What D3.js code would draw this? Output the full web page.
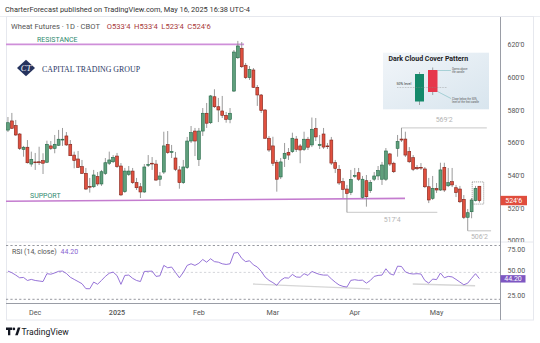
<!DOCTYPE html>
<html><head><meta charset="utf-8">
<script src="https://cdn.jsdelivr.net/npm/d3@7"></script>
<style>body{margin:0;background:#fff}svg{display:block}text{font-family:Roboto,"Noto Sans",sans-serif}text.serif{font-family:"Liberation Serif","DejaVu Serif",serif}</style>
</head><body>
<svg id="c" width="540" height="343"></svg>
<script>
// ---------- DATA ----------
const opens  = [567.9,573.5,570.6,565.5,556.1,557.4,547.1,548.4,548.5,549.2,548.2,558.2,556.7,558.6,561.8,564.3,559.2,552.6,550.2,545.5,
541.4,533.4,533.2,539.4,534.9,541.4,547.6,548.5,552.0,545.9,530.2,540.8,542.8,535.7,533.2,530.0,546.3,547.6,547.1,537.8,
542.2,559.0,554.5,550.8,543.5,535.7,544.9,561.2,567.3,550.0,567.3,578.2,572.4,588.3,582.2,579.6,576.9,574.5,591.8,612.2,
618.0,607.6,600.0,604.7,594.1,589.4,580.2,562.9,558.2,548.2,539.2,550.6,554.3,554.7,562.4,558.2,556.1,562.3,558.8,569.0,
558.5,565.5,558.2,561.8,548.0,543.9,536.3,531.8,529.7,540.0,541.8,526.7,536.9,530.8,537.8,539.8,537.8,537.8,553.3,547.6,
556.7,562.4,562.4,554.7,551.0,545.1,545.1,544.1,533.2,526.1,532.2,531.2,545.1,533.8,536.3,532.6,531.8,525.5,514.5,517.9,
524.7,533.5];
const highs  = [575.9,578.4,574.1,566.1,558.2,561.8,554.7,553.9,557.7,553.7,561.4,561.2,564.9,568.0,569.2,566.7,561.8,554.7,555.1,549.6,
544.7,538.6,543.5,542.2,543.5,550.8,554.7,552.6,553.9,547.7,544.7,545.9,544.7,538.6,535.5,547.1,552.6,551.4,549.6,542.2,
566.9,567.3,558.8,554.5,545.9,549.6,563.7,570.4,569.2,569.2,581.4,584.5,589.4,592.9,587.6,588.8,579.0,581.4,616.9,622.5,
621.8,609.0,607.1,605.9,595.5,590.0,580.8,564.3,563.8,549.6,550.8,560.0,556.9,566.3,564.3,559.4,566.9,563.7,575.6,575.3,
564.9,569.2,560.0,563.7,549.6,546.5,538.6,534.3,543.5,544.7,544.7,539.8,540.4,537.3,542.2,545.9,548.4,556.9,553.9,548.5,
564.9,569.25,566.9,557.5,552.6,546.5,547.7,545.3,538.6,539.8,535.5,547.9,547.9,544.7,544.7,534.3,533.7,528.1,519.6,526.3,
533.7,533.5];
const lows   = [566.7,568.6,564.3,555.7,551.6,547.4,545.5,543.5,546.5,541.0,547.7,555.7,553.7,558.2,558.2,558.2,552.0,544.5,544.7,541.0,
531.2,529.6,532.4,533.7,533.7,540.4,546.5,547.7,544.7,527.5,529.4,539.8,534.9,531.2,526.3,529.4,545.3,543.5,536.7,533.7,
541.0,553.3,550.8,542.8,532.0,534.9,544.1,560.0,552.0,545.9,564.3,569.2,571.6,581.4,572.8,575.3,572.4,572.1,591.2,611.4,
605.9,599.2,598.6,593.7,582.7,578.4,562.4,554.5,545.9,530.2,537.9,545.3,549.6,553.9,554.5,547.6,555.1,555.7,557.5,561.2,
556.3,556.3,556.3,546.5,541.6,534.3,526.3,517.5,528.1,538.6,536.7,525.7,521.0,529.4,536.7,537.3,534.3,536.7,545.9,541.6,
551.6,560.6,551.4,547.7,542.8,543.5,543.5,532.4,523.2,525.1,529.4,530.6,530.0,533.0,533.0,526.9,523.2,513.4,506.25,513.9,
524.2,523.5];
const closes = [572.4,569.0,564.9,556.7,557.4,547.9,550.0,548.0,547.9,547.6,559.2,556.7,559.2,562.3,562.3,558.8,552.2,549.2,545.1,541.4,
531.8,533.1,540.4,534.9,542.4,547.9,549.6,551.2,545.5,528.2,542.8,542.8,535.7,532.6,530.0,545.3,546.9,547.4,537.3,539.8,
558.2,554.1,554.7,543.9,535.7,545.3,561.2,566.3,561.2,567.3,578.2,572.1,588.8,582.2,580.2,576.9,574.5,578.2,615.7,619.4,
606.7,600.0,605.1,594.1,589.4,579.8,562.9,555.7,547.6,537.8,548.4,553.7,552.6,562.9,556.1,555.7,562.3,557.4,568.4,563.7,
559.1,557.5,558.0,547.7,544.4,535.5,531.6,529.1,537.6,540.1,537.8,537.8,527.1,535.7,539.8,543.1,546.5,555.1,547.1,542.4,
560.8,561.8,552.6,548.5,543.9,544.2,545.0,533.2,525.1,532.2,531.2,543.5,531.2,535.7,534.3,529.6,524.0,514.5,517.3,525.1,
532.2,524.75];
const rsiValues = [51.2,49.7,47.5,45,45.3,42.5,43.5,42.5,42,41.5,48.8,48.3,49.5,51,51.2,49,45.5,43.5,41.5,39.5,
34.9,34.8,41,39,42.5,46.3,49.2,50.3,47,38.9,47.2,47.5,44.5,42.5,41.5,50.9,51,51.2,46.3,46.8,
56.5,54.3,55,50,45,50,56.5,58,56.5,58.5,62,59.5,62.7,60,59.5,58,57.4,58,67.9,68.5,
63,60,60.8,57,55,51,45.7,42.6,40.5,38,42.6,45,44.7,48.1,45.7,45.5,48.8,47.2,50.9,49.4,
48.1,47.5,47.5,44,40.9,38.3,37,36.4,42.6,43.2,42.6,42.8,40,42.5,46.3,47.2,47.5,53.4,48.8,47.5,
55.8,55.5,50.5,49,48.5,48.8,48.5,42.5,40,43.8,43.3,49.4,45,46.3,45.8,43.5,41,38.5,40,44.5,
48.8,44.2];
const monthLabels = ["Dec","2025","Feb","Mar","Apr","May"];
const monthBarIndex = [7,28,49,68,89,110];
const priceTicks = [500,520,540,560,580,600,620];
const rsiTicks = [25,50,75];
const resistanceIdx = [-0.5,60.6], resistancePrice = [620.4,620.4];
const supportIdx = [-0.5,101.9], supportPrice = [524.3,526.1];
const levelPrices = [569.25,517.5,506.25];
const levelFromIdx = [101,87,118];
const levelToIdx = [122.9,110.2,124];
const rsiTrendIdx = [[62.9,92.9],[103.9,119.9]];
const rsiTrendVal = [[39.2,34.6],[39.2,37.6]];

// ---------- SETUP ----------
const svg = d3.select("#c");
const n = closes.length;
const x = d3.scaleLinear().domain([0,n-1]).range([7.95,479.4]);
const y = d3.scaleLinear().domain([520,620]).range([208.3,45]);
const yr = d3.scaleLinear().domain([25,75]).range([299.3,245.5]);
const fmt8 = v => { const w=Math.floor(v+1e-9); return w+"'"+Math.round((v-w)*8); };

const defs = svg.append("defs");
defs.append("clipPath").attr("id","pp").append("rect").attr("x",6).attr("y",17).attr("width",494).attr("height",225);
defs.append("clipPath").attr("id","pa").append("rect").attr("x",500).attr("y",17).attr("width",34).attr("height",225);
defs.append("clipPath").attr("id","rp").append("rect").attr("x",6).attr("y",242).attr("width",494).attr("height",61);
const g1 = defs.append("linearGradient").attr("id","ig").attr("x1",0).attr("y1",0).attr("x2",1).attr("y2",1);
g1.append("stop").attr("offset",0).attr("stop-color","#f1f5f9");
g1.append("stop").attr("offset",1).attr("stop-color","#d8e5ee");

// header
svg.append("text").attr("x",5).attr("y",11.5).attr("font-size",7.4).attr("fill","#333")
  .text("CharterForecast published on TradingView.com, May 16, 2025 16:38 UTC-4");
svg.append("line").attr("x1",0).attr("x2",540).attr("y1",16.5).attr("y2",16.5).attr("stroke","#eceef2");

// frame
svg.append("rect").attr("x",6.5).attr("y",16.5).attr("width",527).attr("height",303.5)
  .attr("fill","none").attr("stroke","#e6e8ee");
svg.append("line").attr("x1",6).attr("x2",533).attr("y1",242).attr("y2",242).attr("stroke","#e6e8ee");
svg.append("line").attr("x1",500.5).attr("x2",500.5).attr("y1",17).attr("y2",320).attr("stroke","#9a9da6");
svg.append("line").attr("x1",6).attr("x2",500.5).attr("y1",303.5).attr("y2",303.5).attr("stroke","#9a9da6");

// title
const last = n-1;
const tt = svg.append("text").attr("x",11).attr("y",28.5).attr("font-size",7.6).attr("fill","#555");
tt.append("tspan").text("Wheat Futures · 1D · CBOT");
[["O",opens[last]],["H",highs[last]],["L",lows[last]],["C",closes[last]]].forEach((d,k)=>{
  tt.append("tspan").attr("dx",k?3.5:7).attr("fill","#a8393a").text(d[0]+fmt8(d[1]));
});

// logo
svg.append("path").attr("d","M26,59.7L35,68L26,76.3L17,68Z").attr("fill","#26335e");
svg.append("text").attr("class","serif").attr("x",26).attr("y",71).attr("text-anchor","middle").attr("font-size",8.5)
  .attr("fill","#fff").attr("font-style","italic").text("CT");
svg.append("text").attr("class","serif").attr("x",42).attr("y",71.5).attr("font-size",8.6)
  .attr("fill","#2b3866").attr("textLength",98).attr("lengthAdjust","spacingAndGlyphs").text("CAPITAL TRADING GROUP");

// price pane
const pp = svg.append("g").attr("clip-path","url(#pp)");
pp.append("line").attr("x1",x(resistanceIdx[0])).attr("x2",x(resistanceIdx[1]))
  .attr("y1",y(resistancePrice[0])).attr("y2",y(resistancePrice[1])).attr("stroke","#cf8fd9").attr("stroke-width",1.6);
pp.append("line").attr("x1",x(supportIdx[0])).attr("x2",x(supportIdx[1]))
  .attr("y1",y(supportPrice[0])).attr("y2",y(supportPrice[1])).attr("stroke","#c47ccf").attr("stroke-width",1.6);
pp.append("text").attr("x",37).attr("y",41.5).attr("font-size",7).attr("fill","#2f8a70").text("RESISTANCE");
pp.append("text").attr("x",30).attr("y",197.5).attr("font-size",7).attr("fill","#2f8a70").text("SUPPORT");

// level annotations
levelPrices.forEach((p,k)=>{
  const x0=x(levelFromIdx[k]), x1=x(levelToIdx[k]);
  pp.append("line").attr("x1",x0).attr("x2",x1).attr("y1",y(p)).attr("y2",y(p)).attr("stroke","#d3d3d3").attr("stroke-width",1.4);
});
pp.append("text").attr("x",(x(levelFromIdx[0])+x(levelToIdx[0]))/2).attr("y",y(levelPrices[0])-5.5)
  .attr("text-anchor","middle").attr("font-size",7).attr("fill","#b4b4b4").text(fmt8(levelPrices[0]));
pp.append("text").attr("x",(x(levelFromIdx[1])+x(levelToIdx[1]))/2).attr("y",y(levelPrices[1])+9.5)
  .attr("text-anchor","middle").attr("font-size",7).attr("fill","#b4b4b4").text(fmt8(levelPrices[1]));
pp.append("text").attr("x",(x(levelFromIdx[2])+x(levelToIdx[2]))/2).attr("y",y(levelPrices[2])+8.5)
  .attr("text-anchor","middle").attr("font-size",7).attr("fill","#b4b4b4").text(fmt8(levelPrices[2]));

// candles
const idx = d3.range(n);
pp.selectAll(".wick").data(idx).join("line")
  .attr("x1",i=>x(i)).attr("x2",i=>x(i)).attr("y1",i=>y(highs[i])).attr("y2",i=>y(lows[i]))
  .attr("stroke","#8e8e8e").attr("stroke-width",0.9);
pp.selectAll(".body").data(idx).join("rect")
  .attr("x",i=>x(i)-1.45).attr("width",2.9)
  .attr("y",i=>y(Math.max(opens[i],closes[i])))
  .attr("height",i=>Math.max(0.8,Math.abs(y(opens[i])-y(closes[i]))))
  .attr("fill",i=>closes[i]>=opens[i]?"#5f9f7c":"#e0503f")
  .attr("stroke",i=>closes[i]>=opens[i]?"#226845":"#80231a").attr("stroke-width",0.6);

// dotted box around last two bars
const bx0=x(n-2)-3.3, bx1=x(n-1)+4.3;
const by0=y(d3.max(highs.slice(-2)))-4, by1=y(d3.min(lows.slice(-2)))+1.5;
pp.append("rect").attr("x",bx0).attr("y",by0).attr("width",bx1-bx0).attr("height",by1-by0)
  .attr("fill","none").attr("stroke","#666").attr("stroke-width",0.7).attr("stroke-dasharray","1,1");

// inset image: Dark Cloud Cover Pattern
const ins = svg.append("g");
ins.append("rect").attr("x",383).attr("y",52.7).attr("width",106).attr("height",56.6).attr("fill","url(#ig)");
ins.append("text").attr("x",388.5).attr("y",61).attr("font-size",7).attr("font-weight","bold").attr("fill","#1d1d1f").text("Dark Cloud Cover Pattern");
ins.append("line").attr("x1",419.5).attr("x2",419.5).attr("y1",72).attr("y2",105).attr("stroke","#555").attr("stroke-width",0.5);
ins.append("rect").attr("x",415).attr("y",74).attr("width",9).attr("height",27.5).attr("fill","#14896a");
ins.append("line").attr("x1",432.7).attr("x2",432.7).attr("y1",67.5).attr("y2",95).attr("stroke","#555").attr("stroke-width",0.5);
ins.append("rect").attr("x",428).attr("y",70).attr("width",9.5).attr("height",22).attr("fill","#e6374c");
ins.append("line").attr("x1",397).attr("x2",447).attr("y1",87.5).attr("y2",87.5).attr("stroke","#8a8a8a").attr("stroke-width",0.5).attr("stroke-dasharray","0.8,0.8");
ins.append("text").attr("x",396.5).attr("y",85).attr("font-size",3.6).attr("fill","#333").text("50% level");
ins.append("path").attr("d","M437.5,70.5H451").attr("stroke","#48a3a8").attr("stroke-width",0.4).attr("fill","none");
ins.append("path").attr("d","M437.5,91.5L451,98.5").attr("stroke","#48a3a8").attr("stroke-width",0.4).attr("fill","none");
[["Opens above",452,70],["the candle",452,73],["Close below the 50%",452,99.5],["level of the first candle",452,102.5]].forEach(d=>{
  ins.append("text").attr("x",d[1]).attr("y",d[2]).attr("font-size",2.7).attr("fill","#555").text(d[0]);
});

// price axis labels
const pa = svg.append("g").attr("clip-path","url(#pa)");
pa.selectAll(".pt").data(priceTicks).join("text")
  .attr("x",507.5).attr("y",d=>y(d)+2.4).attr("font-size",7).attr("fill","#555").text(d=>fmt8(d));
const cp = closes[last];
pa.append("rect").attr("x",500.5).attr("y",y(cp)-4.7).attr("width",26.5).attr("height",9.4).attr("fill","#e04d3d");
pa.append("text").attr("x",513.7).attr("y",y(cp)+2.4).attr("text-anchor","middle").attr("font-size",7).attr("fill","#fff").text(fmt8(cp));

// RSI pane
const rp = svg.append("g").attr("clip-path","url(#rp)");
rsiTicks.forEach(v=>{
  rp.append("line").attr("x1",6).attr("x2",500).attr("y1",yr(v)).attr("y2",yr(v))
    .attr("stroke",v===50?"#c9cbd1":"#7c7f88").attr("stroke-width",0.8).attr("stroke-dasharray","2.2,2.2");
});
rsiTrendIdx.forEach((t,k)=>{
  rp.append("line").attr("x1",x(t[0])).attr("x2",x(t[1])).attr("y1",yr(rsiTrendVal[k][0])).attr("y2",yr(rsiTrendVal[k][1]))
    .attr("stroke","#d6d6d6").attr("stroke-width",1.3);
});
rp.append("path").datum(rsiValues).attr("fill","none").attr("stroke","#8a63d2").attr("stroke-width",0.9)
  .attr("d",d3.line().x((d,i)=>x(i)).y(d=>yr(d)));
const rl = svg.append("text").attr("x",12).attr("y",254).attr("font-size",7).attr("fill","#555");
rl.append("tspan").text("RSI (14, close)");
rl.append("tspan").attr("dx",4).attr("fill","#8a63d2").text(rsiValues[last].toFixed(2));

// RSI axis labels
const rsiLabelY = {75:249.5,50:270.6,25:295.5};
svg.selectAll(".rt").data(rsiTicks).join("text")
  .attr("x",507.5).attr("y",d=>rsiLabelY[d]+2.4).attr("font-size",7).attr("fill","#555").text(d=>d.toFixed(2));
const rv = rsiValues[last];
svg.append("rect").attr("x",500.5).attr("y",yr(rv)-3.5).attr("width",25).attr("height",7.4).attr("fill","#7e57c2");
svg.append("text").attr("x",513).attr("y",yr(rv)+2.4).attr("text-anchor","middle").attr("font-size",7).attr("fill","#fff").text(rv.toFixed(2));

// time axis
svg.selectAll(".mt").data(monthLabels).join("text")
  .attr("x",(d,k)=>x(monthBarIndex[k])).attr("y",314.5).attr("text-anchor","middle")
  .attr("font-size",7.2).attr("fill","#555").attr("font-weight",d=>d==="2025"?"500":"normal").text(d=>d);

// TradingView footer
svg.append("path").attr("d","M6,327.6H12.2V330H10.3V335.3H8V330H6Z").attr("fill","#131722");
svg.append("circle").attr("cx",13.9).attr("cy",328.9).attr("r",1.3).attr("fill","#131722");
svg.append("path").attr("d","M15.2,335.3L17.8,327.6H20.4L17.8,335.3Z").attr("fill","#131722");
svg.append("text").attr("x",21.5).attr("y",334.6).attr("font-size",8.6).attr("fill","#131722").text("TradingView");
</script>
</body></html>
